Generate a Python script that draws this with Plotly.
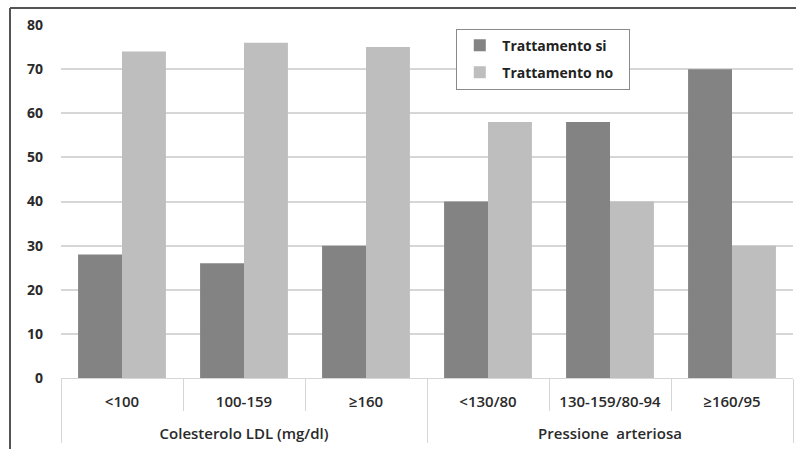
import plotly.graph_objects as go

groups = ["\u00a0<br>Colesterolo LDL (mg/dl)"] * 3 + ["\u00a0<br>Pressione  arteriosa"] * 3
subcats = ["<100", "100-159", "≥160", "<130/80", "130-159/80-94", "≥160/95"]
tratt_si = [28, 26, 30, 40, 58, 70]
tratt_no = [74, 76, 75, 58, 40, 30]
y_ticks = [0, 10, 20, 30, 40, 50, 60, 70, 80]

FONT = "Open Sans"
PAD = "\u00a0\u00a0\u00a0"

fig = go.Figure()
fig.add_trace(go.Bar(x=[groups, subcats], y=tratt_si, name="Trattamento si" + PAD,
                     marker=dict(color="#838383", line=dict(width=0)), legendgroup="a"))
fig.add_trace(go.Bar(x=[groups, subcats], y=tratt_no, name="Trattamento no" + PAD,
                     marker=dict(color="#bebebe", line=dict(width=0)), legendgroup="b"))

fig.update_layout(
    width=796, height=449,
    margin=dict(l=61, r=3, t=25, b=71, autoexpand=False),
    paper_bgcolor="white", plot_bgcolor="white",
    bargap=0.28, bargroupgap=0,
    font=dict(family=FONT, color="#2a2a2a", size=13),
    legend=dict(x=0.54, y=0.99, xanchor="left", yanchor="top",
                bordercolor="#8a8a8a", borderwidth=1, bgcolor="white",
                font=dict(size=14, weight=700, color="#222"),
                tracegroupgap=6, itemwidth=35),
    showlegend=True,
)
fig.update_yaxes(range=[0, 80], tickvals=y_ticks, showgrid=True, gridcolor="#d6d6d6",
                 gridwidth=1.5, zeroline=False, showline=False,
                 tickfont=dict(size=14, weight=700, color="#2a2a2a"),
                 ticklabelstandoff=17)
fig.update_xaxes(type="multicategory", showline=True, linecolor="#d6d6d6", linewidth=1,
                 tickson="boundaries", ticks="outside", ticklen=32, tickcolor="#d6d6d6",
                 showdividers=True, dividercolor="#d6d6d6", dividerwidth=1,
                 ticklabelstandoff=10,
                 tickfont=dict(size=15, weight=600, color="#2a2a2a"))

# outer frame (top and left edges)
px_w, px_h = 732, 353
fig.add_shape(type="line", xref="paper", yref="paper",
              x0=(10 - 61) / px_w, x1=(800 - 61) / px_w,
              y0=(378 - 8) / px_h, y1=(378 - 8) / px_h,
              line=dict(color="#555", width=2))
fig.add_shape(type="line", xref="paper", yref="paper",
              x0=(10 - 61) / px_w, x1=(10 - 61) / px_w,
              y0=(378 - 8) / px_h, y1=(378 - 460) / px_h,
              line=dict(color="#555", width=2))

fig.write_html("out.html", config={"displayModeBar": False},
               post_script="document.body.style.margin='0';document.body.style.overflow='hidden';")
